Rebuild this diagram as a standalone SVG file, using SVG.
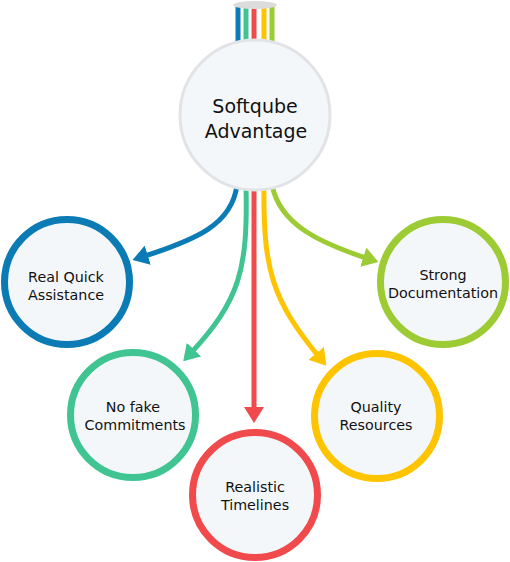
<svg xmlns="http://www.w3.org/2000/svg" width="510" height="562" viewBox="0 0 510 562">
<style>
.lbl{font-family:"DejaVu Sans","Noto Sans",sans-serif;font-size:14.3px;font-weight:400;fill:#111;text-anchor:middle}
.big{font-family:"DejaVu Sans","Noto Sans",sans-serif;font-size:19px;font-weight:400;fill:#111;text-anchor:middle}
.node{fill:#f4f7fa;stroke-width:7}
.con{fill:none;stroke-width:5}
</style>
<defs>
<marker id="mB" viewBox="0 0 8 10" refX="3" refY="5" markerWidth="3.2" markerHeight="4" orient="auto"><path d="M0,0 L8,5 L0,10 z" fill="#0a7bb5"/></marker>
<marker id="mG" viewBox="0 0 8 10" refX="3" refY="5" markerWidth="3.2" markerHeight="4" orient="auto"><path d="M0,0 L8,5 L0,10 z" fill="#40c492"/></marker>
<marker id="mR" viewBox="0 0 8 10" refX="3" refY="5" markerWidth="3.2" markerHeight="4" orient="auto"><path d="M0,0 L8,5 L0,10 z" fill="#f04a4c"/></marker>
<marker id="mY" viewBox="0 0 8 10" refX="3" refY="5" markerWidth="3.2" markerHeight="4" orient="auto"><path d="M0,0 L8,5 L0,10 z" fill="#ffc400"/></marker>
<marker id="mL" viewBox="0 0 8 10" refX="3" refY="5" markerWidth="3.2" markerHeight="4" orient="auto"><path d="M0,0 L8,5 L0,10 z" fill="#9dcb34"/></marker>
</defs>
<g id="top-stripes">
<rect x="235.5" y="4" width="5" height="44" fill="#0a7bb5"/>
<rect x="243.5" y="4" width="5" height="44" fill="#40c492"/>
<rect x="251.5" y="4" width="5" height="44" fill="#f04a4c"/>
<rect x="261.5" y="4" width="5" height="44" fill="#ffc400"/>
<rect x="269.5" y="4" width="5" height="44" fill="#9dcb34"/>
<ellipse cx="255" cy="5" rx="22" ry="4" fill="#dcdcdc"/>
</g>
<g id="connectors">
<path class="con" stroke="#0a7bb5" d="M237,185 C232,225 195,240 142,257" marker-end="url(#mB)"/>
<path class="con" stroke="#40c492" d="M246,185 C248,270 240,300 190,354" marker-end="url(#mG)"/>
<path class="con" stroke="#f04a4c" d="M254,185 V413" marker-end="url(#mR)"/>
<path class="con" stroke="#ffc400" d="M264,185 C263,270 272,300 320,358" marker-end="url(#mY)"/>
<path class="con" stroke="#9dcb34" d="M272,185 C280,225 320,243 369,259" marker-end="url(#mL)"/>
</g>
<g id="center">
<circle cx="255" cy="115" r="75" fill="#f4f7fa" stroke="#e1e3e6" stroke-width="3"/>
<text class="big" x="255" y="113">Softqube</text>
<text class="big" x="256" y="138">Advantage</text>
</g>
<g id="real-quick-assistance">
<circle class="node" cx="67" cy="282" r="62.5" stroke="#0a7bb5"/>
<text class="lbl" x="66" y="282">Real Quick</text>
<text class="lbl" x="66" y="300">Assistance</text>
</g>
<g id="strong-documentation">
<circle class="node" cx="443" cy="282" r="62.5" stroke="#9dcb34"/>
<text class="lbl" x="443" y="280">Strong</text>
<text class="lbl" x="443" y="298">Documentation</text>
</g>
<g id="no-fake-commitments">
<circle class="node" cx="133" cy="415" r="62.5" stroke="#40c492"/>
<text class="lbl" x="133" y="412">No fake</text>
<text class="lbl" x="135" y="430">Commitments</text>
</g>
<g id="quality-resources">
<circle class="node" cx="377" cy="416" r="62.5" stroke="#ffc400"/>
<text class="lbl" x="376" y="412">Quality</text>
<text class="lbl" x="376" y="430">Resources</text>
</g>
<g id="realistic-timelines">
<circle class="node" cx="255" cy="495" r="62.5" stroke="#f04a4c"/>
<text class="lbl" x="255" y="492">Realistic</text>
<text class="lbl" x="255" y="510">Timelines</text>
</g>
</svg>
